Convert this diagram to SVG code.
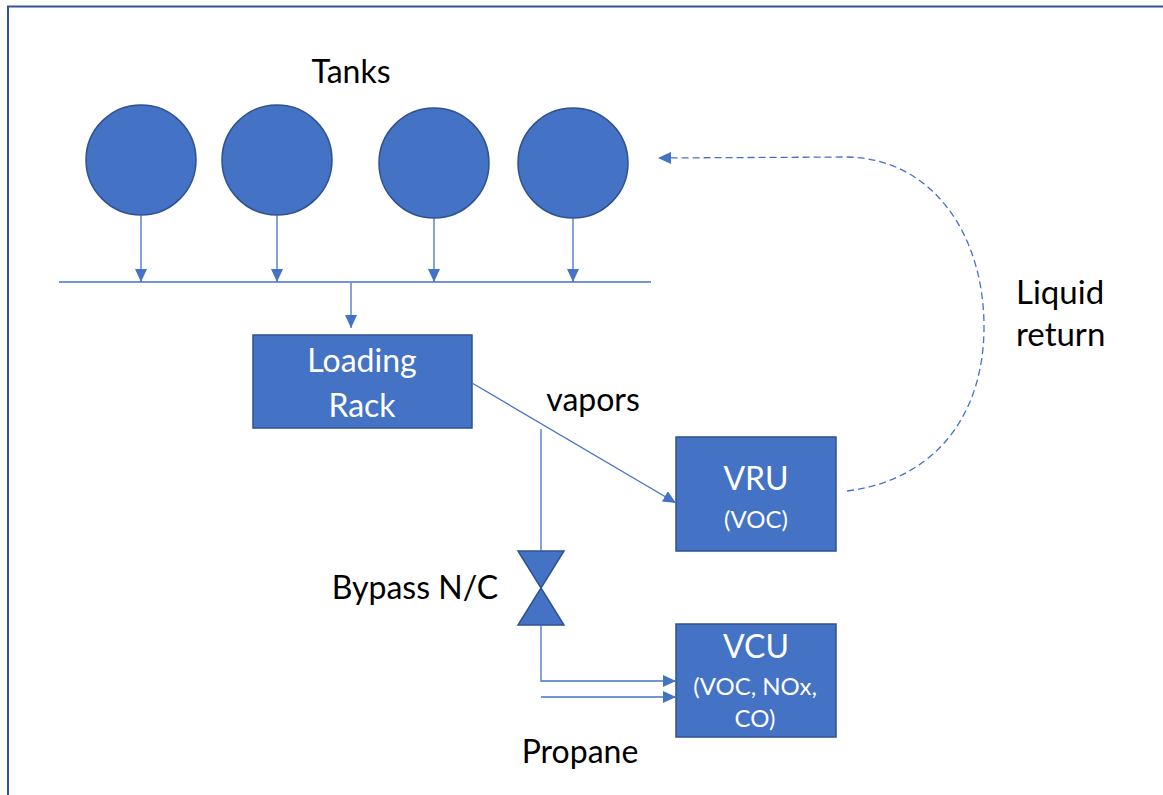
<svg xmlns="http://www.w3.org/2000/svg" width="1163" height="795" viewBox="0 0 1163 795">
<style>
.tank{fill:#4472C4;stroke:#2F528F;stroke-width:1.5}
.box{fill:#4472C4;stroke:#2F528F;stroke-width:1.5}
.ln{fill:none;stroke:#4472C4;stroke-width:1.3}
.dash{fill:none;stroke:#4472C4;stroke-width:1.3;stroke-dasharray:7 4}
.lbl{font-family:Lato,"Open Sans","Liberation Sans",sans-serif;font-size:32px;fill:#000}
.wt{font-family:Lato,"Open Sans","Liberation Sans",sans-serif;font-size:32px;fill:#fff;text-anchor:middle}
.ws{font-family:Lato,"Open Sans","Liberation Sans",sans-serif;font-size:24px;fill:#fff;text-anchor:middle}
</style>
<defs>
<marker id="arr" markerUnits="userSpaceOnUse" markerWidth="14" markerHeight="12" refX="13" refY="6" orient="auto">
<path d="M0,0 L13,6 L0,12 Z" fill="#4472C4"/>
</marker>
</defs>
<rect x="0" y="0" width="1163" height="795" fill="#fff"/>
<path d="M8,795 V6.5 H1163" fill="none" stroke="#2F5597" stroke-width="2"/>
<text class="lbl" x="351" y="83" text-anchor="middle">Tanks</text>
<g id="tank1"><circle class="tank" cx="141" cy="160" r="55"/></g>
<g id="tank2"><circle class="tank" cx="277" cy="160" r="55"/></g>
<g id="tank3"><circle class="tank" cx="434" cy="163" r="55"/></g>
<g id="tank4"><circle class="tank" cx="573" cy="163" r="55"/></g>
<g id="loading-rack">
<rect class="box" x="253" y="335" width="219" height="93"/>
<text class="wt" x="362" y="372">Loading</text>
<text class="wt" x="362" y="417">Rack</text>
</g>
<g id="vru">
<rect class="box" x="676" y="437" width="160" height="114"/>
<text class="wt" x="756" y="490">VRU</text>
<text class="ws" x="756" y="528">(VOC)</text>
</g>
<g id="vcu">
<rect class="box" x="676" y="624" width="160" height="113"/>
<text class="wt" x="756" y="658">VCU</text>
<text class="ws" x="755" y="695">(VOC, NOx,</text>
<text class="ws" x="755" y="727">CO)</text>
</g>
<g id="valve">
<path class="box" d="M518,551 H564 L518,625 H564 Z"/>
</g>
<g id="connectors">
<line class="ln" x1="141" y1="215" x2="141" y2="282" marker-end="url(#arr)"/>
<line class="ln" x1="277" y1="215" x2="277" y2="282" marker-end="url(#arr)"/>
<line class="ln" x1="434" y1="218" x2="434" y2="282" marker-end="url(#arr)"/>
<line class="ln" x1="573" y1="218" x2="573" y2="282" marker-end="url(#arr)"/>
<line class="ln" x1="59" y1="282" x2="651" y2="282"/>
<line class="ln" x1="351" y1="283" x2="351" y2="328" marker-end="url(#arr)"/>
<line class="ln" x1="472" y1="383" x2="676" y2="503" marker-end="url(#arr)"/>
<line class="ln" x1="541" y1="429" x2="541" y2="551" stroke-width="1.6"/>
<path class="ln" d="M541,625 V681 H676" stroke-width="1.6" marker-end="url(#arr)"/>
<line class="ln" x1="541" y1="697" x2="676" y2="697" marker-end="url(#arr)"/>
<path class="dash" d="M847,491 C935,480 984,415 984,327 C984,232 930,157 845,157 L658,158" marker-end="url(#arr)"/>
</g>
<text class="lbl" x="593" y="411" text-anchor="middle">vapors</text>
<text class="lbl" x="415" y="599" text-anchor="middle">Bypass N/C</text>
<text class="lbl" x="580" y="763" text-anchor="middle">Propane</text>
<text class="lbl" x="1016" y="304" style="font-size:33px">Liquid</text>
<text class="lbl" x="1016" y="346" style="font-size:33px">return</text>
</svg>
